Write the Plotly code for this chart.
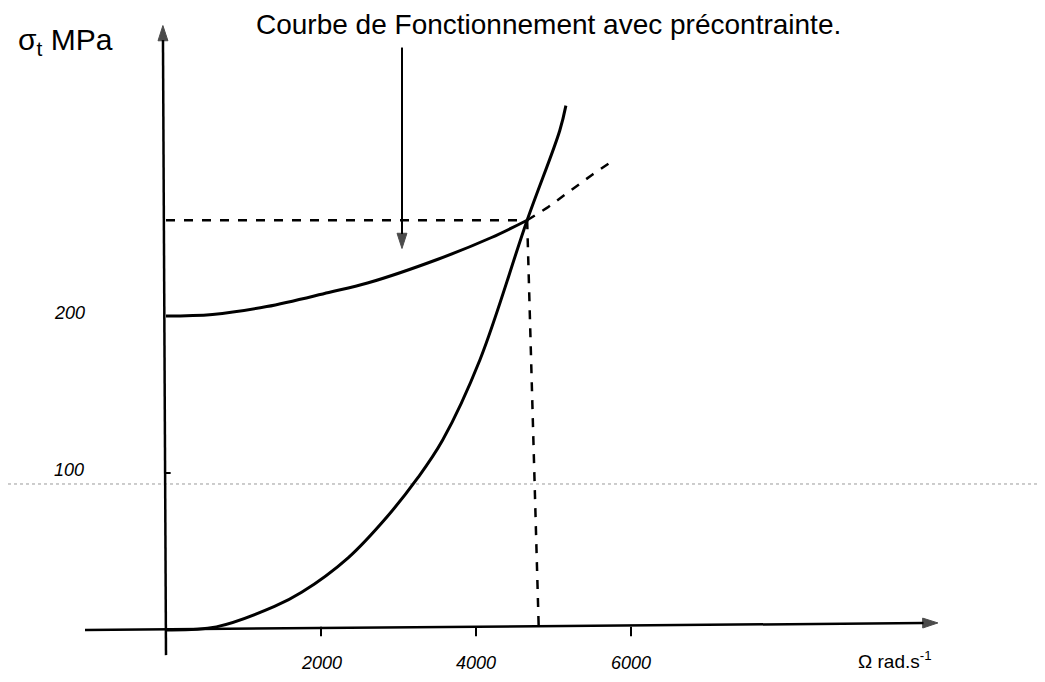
import plotly.graph_objects as go

# Curve with prestress (solid part up to the intersection)
omega_pre = [0, 600, 1300, 2100, 2600, 3500, 4200, 4660]
sigma_pre = [200, 201, 206, 215, 221, 236, 250, 261]
# Dashed continuation of prestressed curve
omega_pre_ext = [4660, 4920, 5500, 5770]
sigma_pre_ext = [261, 269, 290, 299]
# Curve without prestress
omega_nopre = [0, 650, 1400, 1750, 2350, 2850, 3250, 3570, 4050, 4660, 5080, 5160]
sigma_nopre = [0, 2, 15, 24, 46, 72, 97, 121, 172, 261, 318, 334]
# Operating point reference lines
omega_op = [0, 4660]
sigma_op = [261, 261]
omega_vert = [4660, 4810]
sigma_vert = [261, 0]

x_ticks = [2000, 4000, 6000]
x_tick_labels = ["2000", "4000", "6000"]
y_ticks = [100, 200]
y_tick_labels = ["100", "200"]

OFF = 8  # page body margin
W, H = 1045 - 2 * OFF, 682 - 2 * OFF
# pixel mapping (reference pixels): x: 166px at 0, 0.0775 px/unit; y: 630px at 0, 1.57 px/unit
x0_px, xs = 166 - OFF, 0.0775
y0_px, ys = 630 - OFF, 1.57
x_range = [(0 - x0_px) / xs, (W - x0_px) / xs]
y_range = [(y0_px - H) / ys, (y0_px - 0) / ys]


def px(xr):
    return (xr - OFF) / W


def py(yr):
    return 1 - (yr - OFF) / H


fig = go.Figure()
line_black = dict(color="black", width=3)

# scan artifact dotted line
fig.add_trace(go.Scatter(x=[x_range[0], x_range[1]], y=[93, 93], mode="lines",
                         line=dict(color="#9a9a9a", width=1, dash="dot"), hoverinfo="skip"))

fig.add_trace(go.Scatter(x=omega_pre, y=sigma_pre, mode="lines", line=line_black, line_shape="spline"))
fig.add_trace(go.Scatter(x=omega_pre_ext, y=sigma_pre_ext, mode="lines",
                         line=dict(color="black", width=2.5, dash="dash")))
fig.add_trace(go.Scatter(x=omega_nopre, y=sigma_nopre, mode="lines", line=line_black, line_shape="spline"))
fig.add_trace(go.Scatter(x=omega_op, y=sigma_op, mode="lines",
                         line=dict(color="black", width=2.5, dash="dash")))
fig.add_trace(go.Scatter(x=omega_vert, y=sigma_vert, mode="lines",
                         line=dict(color="black", width=2.5, dash="dash")))

# axes drawn by hand, with arrow heads
arrow_marker = dict(symbol="arrow", size=[0, 16], angleref="previous", color="black",
                    line=dict(color="black", width=1))
fig.add_trace(go.Scatter(x=[-1045, 9960], y=[0, 4.5], mode="lines+markers",
                         line=dict(color="black", width=2.5), marker=arrow_marker))
fig.add_trace(go.Scatter(x=[0, -40], y=[-16, 385], mode="lines+markers",
                         line=dict(color="black", width=2.5), marker=arrow_marker))
# annotation arrow for the prestressed curve
fig.add_trace(go.Scatter(x=[3045, 3045], y=[371, 243], mode="lines+markers",
                         line=dict(color="black", width=2),
                         marker=dict(symbol="arrow", size=[0, 16], angleref="previous", color="black",
                                     line=dict(color="black", width=1))))

# tick marks
for xt in x_ticks:
    fig.add_shape(type="line", x0=xt, x1=xt, y0=-4, y1=2, line=dict(color="black", width=2))
for yt in y_ticks:
    fig.add_shape(type="line", x0=0, x1=60, y0=yt, y1=yt, line=dict(color="black", width=2))

font_small = dict(family="Liberation Sans", size=18, color="black")
for xt, lab in zip(x_ticks, x_tick_labels):
    fig.add_annotation(x=xt, y=-21, xref="x", yref="y", text="<i>" + lab + "</i>",
                       showarrow=False, font=font_small, xanchor="center", yanchor="middle")
for yt, lab in zip(y_ticks, y_tick_labels):
    fig.add_annotation(x=-1250, y=yt + 2, xref="x", yref="y", text="<i>" + lab + "</i>",
                       showarrow=False, font=font_small, xanchor="center", yanchor="middle")

fig.add_annotation(x=px(548), y=py(24), xref="paper", yref="paper", xanchor="center", yanchor="middle",
                   text="Courbe de Fonctionnement avec précontrainte.", showarrow=False,
                   font=dict(family="Liberation Sans", size=28, color="black"))
fig.add_annotation(x=px(65), y=py(42), xref="paper", yref="paper", xanchor="center", yanchor="middle",
                   text="σ<sub>t</sub> MPa", showarrow=False,
                   font=dict(family="Liberation Sans", size=30, color="black"))
fig.add_annotation(x=px(895), y=py(660), xref="paper", yref="paper", xanchor="center", yanchor="middle",
                   text="Ω rad.s<sup>-1</sup>", showarrow=False,
                   font=dict(family="Liberation Sans", size=19, color="black"))

fig.update_layout(width=W, height=H, margin=dict(l=0, r=0, t=0, b=0),
                  paper_bgcolor="white", plot_bgcolor="white", showlegend=False,
                  xaxis=dict(range=x_range, visible=False, fixedrange=True),
                  yaxis=dict(range=y_range, visible=False, fixedrange=True))
fig.write_html("out.html")
